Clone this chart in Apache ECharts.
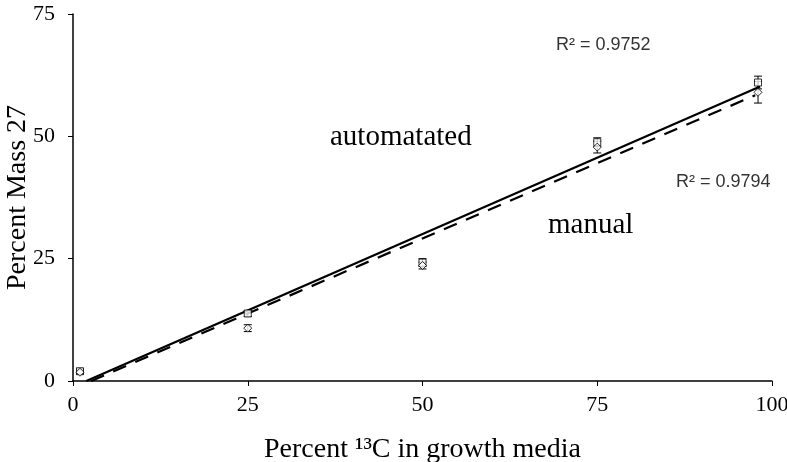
<!DOCTYPE html>
<html>
<head>
<meta charset="utf-8">
<script src="https://cdn.jsdelivr.net/npm/echarts@6/dist/echarts.min.js"></script>
<style>
  html, body { margin: 0; padding: 0; background: #fff; }
  #chart { width: 787px; height: 462px; }
</style>
</head>
<body>
<div id="chart"></div>
<script>
// percent 13C in growth media
const xValues = [1, 25, 50, 75, 98];
// automated (squares) and manual (diamonds), percent mass 27
const autoValues = [2.0, 13.8, 24.2, 48.8, 61.0];
const autoErr = [0.5, 0.6, 0.8, 0.9, 1.3];
const manualValues = [1.8, 10.8, 23.6, 47.8, 59.0];
const manualErr = [0.4, 0.7, 0.7, 1.2, 2.2];
// trend lines (start and end)
const autoFit = [[1.9, 0], [98.3, 60.2]];
const manualFit = [[2.6, 0], [97.6, 58.4]];
const xTicks = [0, 25, 50, 75, 100];
const yTicks = [0, 25, 50, 75];

const serif = 'Liberation Serif';

const pairs = (xs, ys) => xs.map((x, i) => [x, ys[i]]);
const errRows = (xs, ys, es) => xs.map((x, i) => [x, ys[i] - es[i], ys[i] + es[i]]);

// error bar drawn through the axes
function errorBar(params, api) {
  const x = api.value(0);
  const lo = api.coord([x, api.value(1)]);
  const hi = api.coord([x, api.value(2)]);
  const w = 4;
  const style = { stroke: '#000', lineWidth: 1, fill: null };
  return {
    type: 'group',
    children: [
      { type: 'line', shape: { x1: lo[0], y1: lo[1], x2: hi[0], y2: hi[1] }, style },
      { type: 'line', shape: { x1: lo[0] - w, y1: lo[1], x2: lo[0] + w, y2: lo[1] }, style },
      { type: 'line', shape: { x1: hi[0] - w, y1: hi[1], x2: hi[0] + w, y2: hi[1] }, style }
    ]
  };
}

const chart = echarts.init(document.getElementById('chart'));
chart.setOption({
  animation: false,
  backgroundColor: '#fff',
  grid: { left: 73, right: 15, top: 14, bottom: 81, outerBoundsMode: 'none', containLabel: false },
  xAxis: {
    type: 'value', min: 0, max: 100, interval: 25,
    name: 'Percent \u00B9\u00B3C in growth media',
    nameLocation: 'middle', nameGap: 55, nameMoveOverlap: false,
    nameTextStyle: { fontFamily: serif, fontSize: 28, color: '#000' },
    axisLine: { lineStyle: { color: '#000', width: 1.5 } },
    axisTick: { show: true, length: 5, lineStyle: { color: '#000' } },
    axisLabel: { fontFamily: serif, fontSize: 22, color: '#000', margin: 13,
      formatter: v => xTicks.includes(v) ? String(v) : '' },
    splitLine: { show: false }
  },
  yAxis: {
    type: 'value', min: 0, max: 75, interval: 25,
    name: 'Percent Mass 27',
    nameLocation: 'middle', nameGap: 41, nameMoveOverlap: false,
    nameTextStyle: { fontFamily: serif, fontSize: 28, color: '#000' },
    axisLine: { show: true, lineStyle: { color: '#000', width: 1.5 } },
    axisTick: { show: true, length: 5, lineStyle: { color: '#000' } },
    axisLabel: { fontFamily: serif, fontSize: 22, color: '#000', margin: 18,
      formatter: v => yTicks.includes(v) ? String(v) : '' },
    splitLine: { show: false }
  },
  series: [
    {
      type: 'line', data: autoFit, symbol: 'none', silent: true,
      lineStyle: { color: '#000', width: 2.2 }
    },
    {
      type: 'line', data: manualFit, symbol: 'none', silent: true,
      lineStyle: { color: '#000', width: 2.2, type: [14, 10] }
    },
    { type: 'custom', renderItem: errorBar, data: errRows(xValues, autoValues, autoErr), z: 3 },
    { type: 'custom', renderItem: errorBar, data: errRows(xValues, manualValues, manualErr), z: 3 },
    {
      type: 'scatter', data: pairs(xValues, autoValues), symbol: 'rect', symbolSize: 7, z: 4,
      itemStyle: { color: '#fff', borderColor: '#000', borderWidth: 1 }
    },
    {
      type: 'scatter', data: pairs(xValues, manualValues), symbol: 'diamond', symbolSize: 8, z: 4,
      itemStyle: { color: '#fff', borderColor: '#000', borderWidth: 1 }
    }
  ],
  graphic: [
    { type: 'text', left: 330, top: 123, style: { text: 'automatated', fontFamily: serif, fontSize: 29, fill: '#000' } },
    { type: 'text', left: 548, top: 211, style: { text: 'manual', fontFamily: serif, fontSize: 29, fill: '#000' } },
    { type: 'text', left: 556, top: 36, style: { text: 'R\u00B2 = 0.9752', fontFamily: 'Liberation Sans', fontSize: 18, fill: '#333' } },
    { type: 'text', left: 676, top: 173, style: { text: 'R\u00B2 = 0.9794', fontFamily: 'Liberation Sans', fontSize: 18, fill: '#333' } }
  ]
});
</script>
</body>
</html>
